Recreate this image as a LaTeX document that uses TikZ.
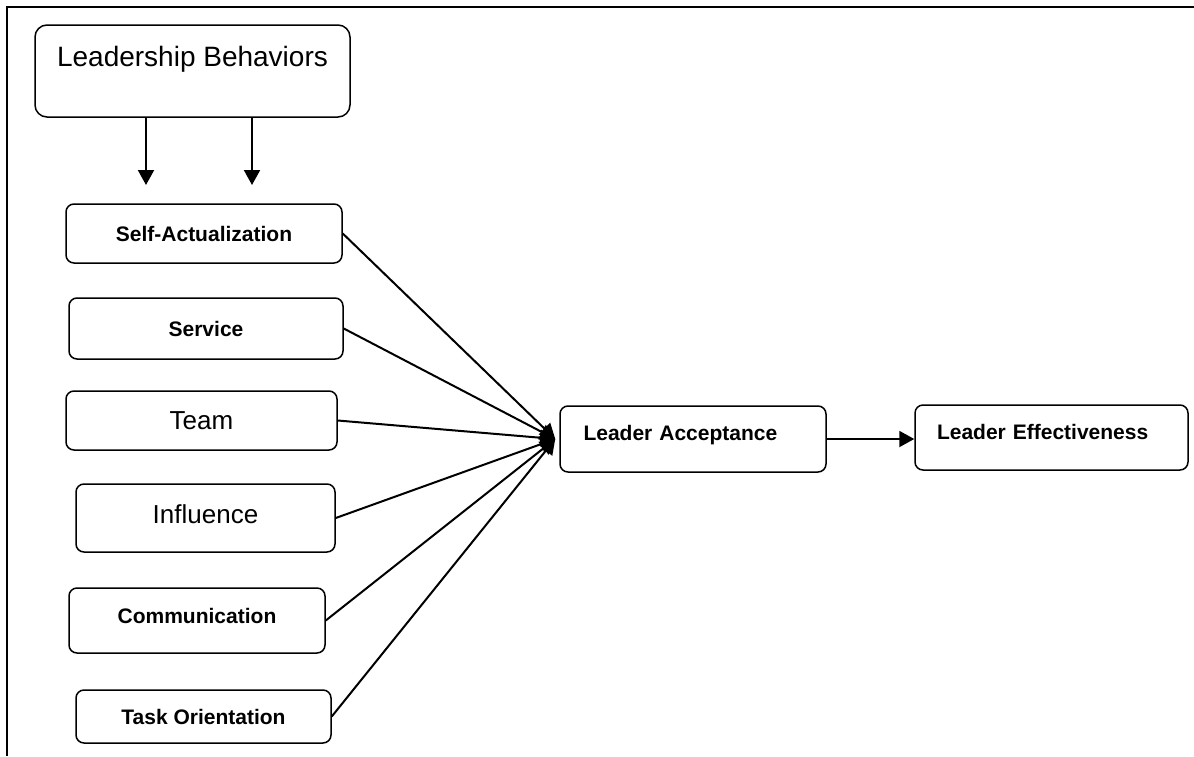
\documentclass[tikz,border=0pt]{standalone}
\usepackage{fontspec}
\setmainfont{Liberation Sans}
\usetikzlibrary{arrows.meta}

\begin{document}
\begin{tikzpicture}[x=0.5pt, y=-0.5pt,
  box/.style={draw, rounded corners=4pt, line width=0.75pt, inner sep=0pt,
    font=\fontsize{10.5}{12}\selectfont\bfseries},
  big/.style={font=\fontsize{14}{16}\selectfont, rounded corners=6pt},
  mid/.style={font=\fontsize{13}{15}\selectfont},
  conn/.style={-{Triangle[length=7.5pt,width=8pt]}, line width=1pt}
]
\useasboundingbox (0,0) rectangle (1194,756);
% frame
\draw[line width=1pt] (7,756) -- (7,7) -- (1194,7);
% leadership behaviors
\node[box, big, minimum width=157.5pt, minimum height=46pt, text depth=15pt]
  (lb) at (192.5,71) {Leadership Behaviors};
\coordinate (t1) at (146,185);
\coordinate (t2) at (252,185);
\draw[conn] (lb.south -| t1) -- (t1);
\draw[conn] (lb.south -| t2) -- (t2);
% behaviors
\node[box, minimum width=138pt, minimum height=29.5pt] (sa) at (204,233.5) {Self-Actualization};
\node[box, minimum width=137pt, minimum height=30.5pt] (sv) at (206,328.5) {Service};
\node[box, mid, minimum width=135.5pt, minimum height=29.5pt] (tm) at (201.5,420.5) {Team};
\node[box, mid, minimum width=129.5pt, minimum height=34pt, text depth=4pt] (inf) at (205.5,518) {Influence};
\node[box, minimum width=128pt, minimum height=32.5pt, text depth=5pt] (com) at (197,620.5) {Communication};
\node[box, minimum width=127.5pt, minimum height=26.5pt] (tsk) at (203.5,716.5) {Task Orientation};
% outcomes
\node[box, minimum height=33pt, text depth=6pt, align=left, text width=109.5pt, inner xsep=11.75pt]
  (la) at (693,439) {Leader Acceptance};
\node[box, minimum height=32.5pt, text depth=6pt, align=left, text width=114.5pt, inner xsep=11pt]
  (le) at (1051.5,437.5) {Leader Effectiveness};
% connectors
\foreach \b in {sa,sv,tm,inf,com,tsk}
  \draw[conn] (\b.east) -- ([xshift=-2pt]la.west);
\draw[conn] (la.east) -- (la.east -| le.west);
\end{tikzpicture}
\end{document}
